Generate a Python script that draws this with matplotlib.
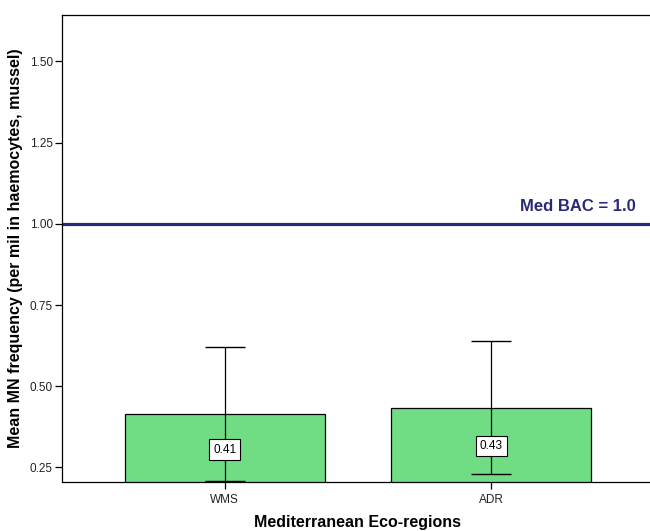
import matplotlib
matplotlib.use("Agg")
import matplotlib.pyplot as plt

plt.rcParams['font.family'] = ['Liberation Sans', 'DejaVu Sans']

regions = ["WMS", "ADR"]
mean_mn = [0.414, 0.434]
err_half = [0.207, 0.204]
value_labels = ["0.41", "0.43"]
label_y = [0.305, 0.315]
bac_value = 1.0
bac_label = "Med BAC = 1.0"
yticks = [0.25, 0.50, 0.75, 1.00, 1.25, 1.50]

fig = plt.figure(figsize=(6.5, 5.31), dpi=100)
ax = fig.add_axes([62 / 650, 49.3 / 531, 592 / 650, 466.7 / 531])

x = list(range(len(regions)))
ax.bar(x, mean_mn, width=0.75, color="#70dc84", edgecolor="black", linewidth=0.9,
       zorder=2)
ax.errorbar(x, mean_mn, yerr=err_half, fmt="none", ecolor="black", elinewidth=0.9,
            capsize=14.5, capthick=1.0, zorder=3)

for xi, lab, ly in zip(x, value_labels, label_y):
    ax.text(xi, ly, lab, ha="center", va="center", fontsize=8.5, color="black",
            bbox=dict(boxstyle="square,pad=0.35", facecolor="white",
                      edgecolor="black", linewidth=0.8), zorder=4)

ax.axhline(bac_value, color="#29297a", linewidth=2.3, zorder=1)
ax.text(1.54, bac_value + 0.03, bac_label, ha="right", va="bottom",
        fontsize=12, fontweight="bold", color="#29297a")

ax.set_xlim(-0.61, 1.61)
ax.set_ylim(0.206, 1.643)
ax.set_xticks(x)
ax.set_xticklabels(regions)
ax.set_yticks(yticks)
ax.set_yticklabels([f"{v:.2f}" for v in yticks])

ax.tick_params(axis="both", direction="out", length=5, width=0.9, labelsize=8.5,
               colors="black", labelcolor="#222222")
ax.tick_params(axis="y", pad=1.5)
ax.spines["right"].set_visible(False)
for s in ("left", "top", "bottom"):
    ax.spines[s].set_linewidth(0.9)
    ax.spines[s].set_color("black")

ax.set_xlabel("Mediterranean Eco-regions", fontsize=11.5, fontweight="bold",
              labelpad=7)
ax.set_ylabel("Mean MN frequency (per mil in haemocytes, mussel)", fontsize=11.5,
              fontweight="bold", labelpad=5)

fig.savefig("out.png", dpi=100)
